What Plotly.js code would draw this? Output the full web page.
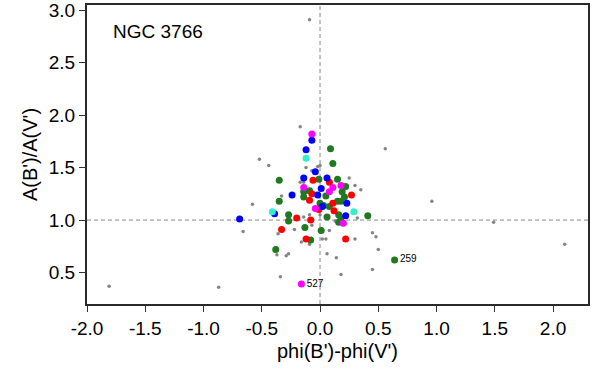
<!DOCTYPE html>
<html>
<head>
<meta charset="utf-8">
<script src="https://cdn.plot.ly/plotly-3.0.1.min.js"></script>
<style>
  html, body { margin: 0; padding: 0; background: #fff; }
  #chart { width: 600px; height: 375px; }
</style>
</head>
<body>
<div id="chart"></div>
<script>
// phi(B')-phi(V') vs A(B')/A(V') for the NGC 3766 sample
const grayX = [-0.17, -0.52, -0.44, 0.56, -0.02, 0.00, -0.12, -0.07, 0.25, 0.30, 0.35, -0.33,
  -0.58, -0.14, -0.07, -0.36, -0.66, -0.22, 0.08, -0.16, -0.09, 0.02, 0.05, 0.30, -0.37,
  -0.29, -0.27, 0.06, 0.14, 0.45, 0.48, 0.50, 0.45, -0.34, 0.18, -0.87, -1.81, -0.09, 0.96,
  1.49, 2.10, 0.32, -0.17, -0.14, -0.09, 0.00, 0.13];
const grayY = [1.89, 1.58, 1.52, 1.68, 1.51, 1.52, 1.50, 1.47, 1.40, 1.33, 1.29, 1.23,
  1.15, 1.03, 0.95, 0.87, 0.89, 0.91, 0.90, 0.79, 0.77, 0.82, 0.82, 0.82, 0.67,
  0.66, 0.68, 0.68, 0.64, 0.88, 0.84, 0.72, 0.53, 0.46, 0.48, 0.36, 0.37, 2.91, 1.18,
  0.98, 0.77, 1.02, 1.36, 1.36, 1.05, 1.05, 0.99];

const blueX = [-0.07, -0.12, -0.04, -0.14, 0.06, 0.01, -0.24, -0.02, 0.23, 0.02, 0.22, -0.39, -0.69];
const blueY = [1.76, 1.67, 1.46, 1.40, 1.40, 1.30, 1.24, 1.24, 1.16, 1.13, 1.04, 1.06, 1.01];

const redX = [-0.06, 0.08, -0.07, 0.27, -0.09, 0.11, 0.12, -0.01, -0.20, -0.08, -0.33, -0.12, 0.22];
const redY = [1.38, 1.36, 1.25, 1.24, 1.19, 1.16, 1.09, 1.10, 1.02, 1.00, 0.91, 0.82, 0.82];

const greenX = [0.09, 0.11, -0.35, -0.01, 0.15, 0.22, 0.19, -0.14, -0.09, -0.14, 0.05, -0.35,
  0.00, 0.03, 0.08, 0.15, 0.18, 0.21, 0.16, 0.18, 0.16, 0.06, 0.41, -0.27, -0.27, -0.13,
  0.01, -0.08, -0.38, 0.64];
const greenY = [1.68, 1.54, 1.38, 1.39, 1.39, 1.32, 1.27, 1.27, 1.28, 1.22, 1.23, 1.18,
  1.16, 1.14, 1.13, 1.18, 1.18, 1.22, 1.05, 1.02, 0.98, 1.03, 1.04, 1.05, 0.99, 0.93,
  0.90, 0.81, 0.72, 0.62];
const greenLabels = ['', '', '', '', '', '', '', '', '', '', '', '', '', '', '', '', '', '', '',
  '', '', '', '', '', '', '', '', '', '', '259'];

const magentaX = [-0.07, -0.14, 0.11, 0.08, 0.18, -0.04, 0.20, -0.16];
const magentaY = [1.82, 1.31, 1.31, 1.27, 1.33, 1.11, 0.97, 0.39];
const magentaLabels = ['', '', '', '', '', '', '', '527'];

const cyanX = [-0.12, -0.41, 0.29];
const cyanY = [1.59, 1.08, 1.08];

const refX = 0;
const refY = 1;

const font = 'Liberation Sans, Arial, sans-serif';

function group(x, y, color, size, labels) {
  return {
    x: x, y: y,
    type: 'scatter',
    mode: labels ? 'markers+text' : 'markers',
    text: labels,
    textposition: 'middle right',
    textfont: { family: font, size: 10, color: '#000' },
    marker: { color: color, size: size, line: { width: 0 } },
    hoverinfo: 'x+y',
    cliponaxis: false
  };
}

const traces = [
  group(grayX, grayY, '#858585', 3.5),
  group(greenX, greenY, '#1f7a1f', 7, greenLabels),
  group(redX, redY, '#ff0000', 7),
  group(blueX, blueY, '#0000ff', 7),
  group(magentaX, magentaY, '#ff00ff', 7, magentaLabels),
  group(cyanX, cyanY, '#33f0cc', 7)
];

const dash = { color: '#888', width: 1, dash: '4px,3px' };

const layout = {
  width: 600,
  height: 375,
  margin: { l: 87, r: 12, t: 5, b: 71 },
  paper_bgcolor: '#fff',
  plot_bgcolor: '#fff',
  showlegend: false,
  font: { family: font, size: 19, color: '#000' },
  xaxis: {
    range: [-2.0, 2.3],
    tickvals: [-2, -1.5, -1, -0.5, 0, 0.5, 1, 1.5, 2],
    ticktext: ['-2.0', '-1.5', '-1.0', '-0.5', '0.0', '0.5', '1.0', '1.5', '2.0'],
    ticks: 'outside', ticklen: 6, tickwidth: 1, tickcolor: '#333',
    showgrid: false, zeroline: false,
    showline: true, mirror: true, linecolor: '#2a2a2a', linewidth: 2,
    tickfont: { size: 19 },
    ticklabeloverflow: 'allow',
    title: { text: "phi(B')-phi(V')", font: { size: 20 }, standoff: 6 }
  },
  yaxis: {
    range: [0.2, 3.05],
    tickvals: [0.5, 1, 1.5, 2, 2.5, 3],
    ticktext: ['0.5', '1.0', '1.5', '2.0', '2.5', '3.0'],
    ticks: 'outside', ticklen: 6, tickwidth: 1, tickcolor: '#333',
    showgrid: false, zeroline: false,
    showline: true, mirror: true, linecolor: '#2a2a2a', linewidth: 2,
    tickfont: { size: 19 },
    ticklabeloverflow: 'allow',
    title: { text: "A(B')/A(V')", font: { size: 20 }, standoff: 6 }
  },
  shapes: [
    { type: 'line', xref: 'x', yref: 'paper', x0: refX, x1: refX, y0: 0, y1: 1, line: dash, layer: 'below' },
    { type: 'line', xref: 'paper', yref: 'y', x0: 0, x1: 1, y0: refY, y1: refY, line: dash, layer: 'below' }
  ],
  annotations: [{
    text: 'NGC 3766', xref: 'paper', yref: 'paper', x: 0.048, y: 0.91,
    xanchor: 'left', yanchor: 'middle', showarrow: false,
    font: { size: 19, family: font }
  }]
};

Plotly.newPlot('chart', traces, layout, { displayModeBar: false, staticPlot: true });
</script>
</body>
</html>
